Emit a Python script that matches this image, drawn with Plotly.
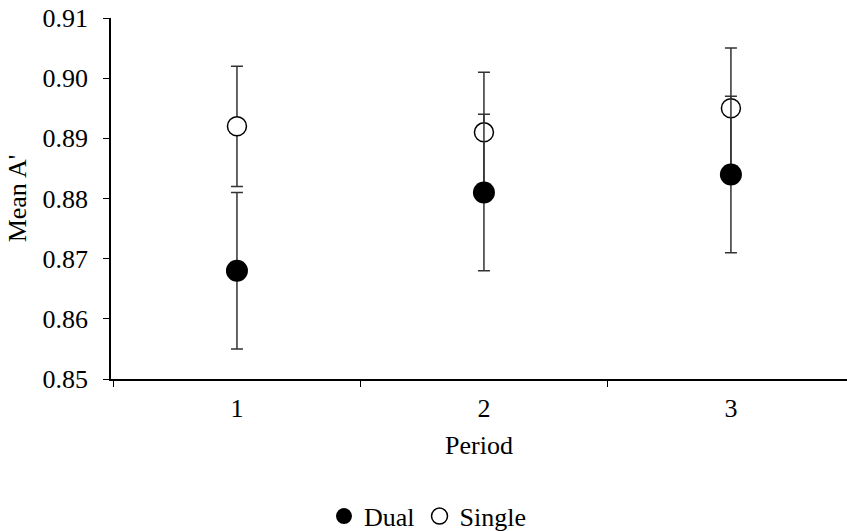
import plotly.graph_objects as go

periods = [1, 2, 3]
dual_mean = [0.868, 0.881, 0.884]
dual_err = [0.013, 0.013, 0.013]
single_mean = [0.892, 0.891, 0.895]
single_err = [0.010, 0.010, 0.010]
y_ticks = [0.85, 0.86, 0.87, 0.88, 0.89, 0.90, 0.91]

FONT = "Liberation Serif, Times New Roman, serif"
SIZE = 26
f = dict(family=FONT, size=SIZE, color="black")

fig = go.Figure()
fig.add_trace(go.Scatter(
    x=periods, y=single_mean, mode="markers", name="Single",
    marker=dict(symbol="circle", size=19, color="white", line=dict(color="black", width=1.5)),
    error_y=dict(type="data", array=single_err, visible=True, color="#333", thickness=1.5, width=6),
))
fig.add_trace(go.Scatter(
    x=periods, y=dual_mean, mode="markers", name="Dual",
    marker=dict(symbol="circle", size=22, color="black", line=dict(color="black", width=0)),
    error_y=dict(type="data", array=dual_err, visible=True, color="#333", thickness=1.5, width=6),
))

fig.update_layout(
    width=847, height=531,
    margin=dict(l=111, r=0, t=18, b=152, autoexpand=False),
    plot_bgcolor="white", paper_bgcolor="white",
    font=f,
    showlegend=True,
    legend=dict(orientation="h", x=0.43, xanchor="center", y=-0.38, yanchor="middle",
                traceorder="reversed", itemsizing="trace", font=f,
                itemwidth=30, tracegroupgap=0),
    xaxis=dict(range=[0.49, 3.47], tickvals=periods, ticktext=[str(p) for p in periods],
               ticks="", showline=True, linecolor="black", linewidth=1.5,
               showgrid=False, zeroline=False, tickfont=f,
               minor=dict(tickvals=[0.5, 1.5, 2.5, 3.5], ticks="outside", ticklen=6,
                          tickcolor="black", tickwidth=1.2, showgrid=False),
               title=dict(text="Period", standoff=14, font=f), ticklabelstandoff=5),
    yaxis=dict(range=[0.85, 0.91], tickvals=y_ticks, tickformat=".2f",
               ticks="outside", ticklen=6, tickcolor="black", tickwidth=1.2,
               showline=True, linecolor="black", linewidth=1.5, tickfont=f,
               showgrid=False, zeroline=False, ticklabelstandoff=10,
               title=dict(text="Mean A'", standoff=8, font=f)),
)

fig.write_html("out.html")
